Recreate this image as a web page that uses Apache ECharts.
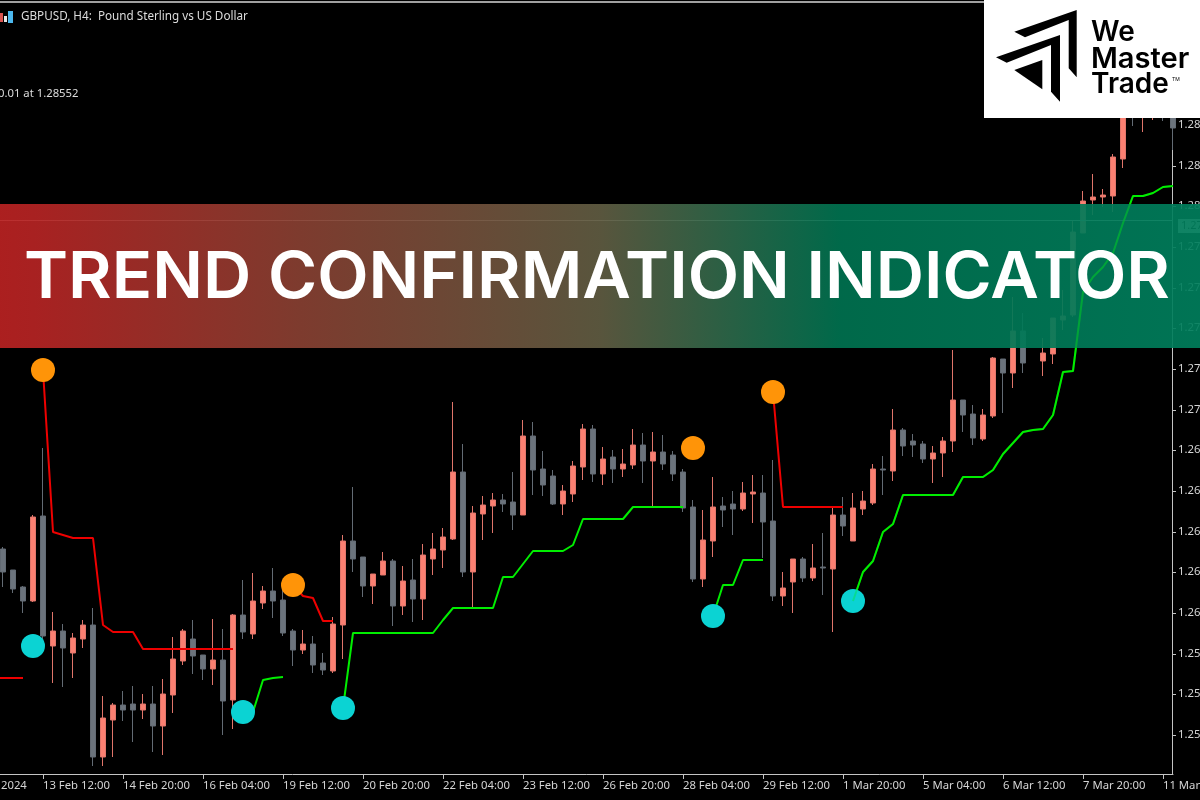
<!DOCTYPE html>
<html>
<head>
<meta charset="utf-8">
<style>html,body{margin:0;padding:0;background:#000}#c{width:1200px;height:800px}</style>
<script src="https://cdn.jsdelivr.net/npm/echarts@6/dist/echarts.min.js"></script>
</head>
<body>
<div id="c"></div>
<script>
const xTickLabels = ["12 Feb 2024","13 Feb 12:00","14 Feb 20:00","16 Feb 04:00","19 Feb 12:00","20 Feb 20:00","22 Feb 04:00","23 Feb 12:00","26 Feb 20:00","28 Feb 04:00","29 Feb 12:00","1 Mar 20:00","5 Mar 04:00","6 Mar 12:00","7 Mar 20:00","11 Mar 04:00"];
const yTickValues = [1.28475,1.28270,1.28070,1.27865,1.27660,1.27460,1.27255,1.27050,1.26850,1.26645,1.26440,1.26240,1.26035,1.25830,1.25630,1.25425];

const opens = [1.26355,1.26250,1.26165,1.26095,1.26520,1.25870,1.25945,1.25835,1.25905,1.25975,
1.25315,1.25500,1.25575,1.25580,1.25550,1.25580,1.25470,1.25625,1.25795,1.25905,
1.25825,1.25755,1.25800,1.25600,1.26025,1.25930,1.26085,1.26145,1.26100,1.25945,
1.25850,1.25880,1.25785,1.25745,1.25975,1.26395,1.26315,1.26170,1.26225,1.26295,
1.26070,1.26200,1.26105,1.26305,1.26350,1.26405,1.26740,1.26240,1.26530,1.26570,
1.26600,1.26590,1.26525,1.26920,1.26755,1.26720,1.26580,1.26630,1.26765,1.26955,
1.26730,1.26815,1.26755,1.26775,1.26875,1.26795,1.26840,1.26825,1.26740,1.26565,
1.26205,1.26395,1.26570,1.26580,1.26555,1.26630,1.26635,1.26495,1.26120,1.26190,
1.26305,1.26210,1.26265,1.26255,1.26525,1.26395,1.26555,1.26585,1.26755,1.26745,
1.26950,1.26895,1.26880,1.26805,1.26835,1.26895,1.27100,1.27030,1.26905,1.27020,
1.27305,1.27235,1.27445,null,1.27295,1.27330,1.27500,1.27525,1.27935,1.28100,
1.28115,1.28120,1.28305,1.28600,1.28525,1.28550,1.28600,1.28560];
const closes = [1.26240,1.26155,1.26095,1.26515,1.25920,1.25945,1.25860,1.25910,1.25975,1.25315,
1.25510,1.25575,1.25550,1.25550,1.25580,1.25470,1.25630,1.25805,1.25945,1.25820,
1.25755,1.25800,1.25595,1.26025,1.25940,1.26095,1.26145,1.26095,1.25935,1.25850,
1.25880,1.25775,1.25750,1.25980,1.26395,1.26305,1.26170,1.26230,1.26295,1.26070,
1.26195,1.26105,1.26325,1.26355,1.26415,1.26740,1.26240,1.26535,1.26575,1.26600,
1.26580,1.26525,1.26920,1.26750,1.26675,1.26580,1.26645,1.26770,1.26955,1.26730,
1.26805,1.26755,1.26780,1.26875,1.26795,1.26840,1.26780,1.26730,1.26560,1.26205,
1.26400,1.26565,1.26550,1.26555,1.26635,1.26640,1.26490,1.26120,1.26160,1.26305,
1.26210,1.26260,1.26260,1.26525,1.26470,1.26560,1.26595,1.26755,1.26750,1.26950,
1.26870,1.26875,1.26805,1.26835,1.26895,1.27100,1.27025,1.26910,1.27025,1.27310,
1.27235,1.27445,1.27285,null,1.27335,1.27510,1.27520,1.27940,1.28095,1.28115,
1.28125,1.28315,1.28575,1.28550,1.28600,1.28600,1.28550,1.28460];
const lows = [1.26165,1.26135,1.26035,1.26090,1.25900,1.25685,1.25665,1.25710,1.25860,1.25270,
1.25270,1.25315,1.25495,1.25390,1.25505,1.25340,1.25325,1.25535,1.25775,1.25730,
1.25700,1.25675,1.25425,1.25455,1.25905,1.25905,1.26055,1.26010,1.25920,1.25770,
1.25830,1.25735,1.25725,1.25735,1.25805,1.26240,1.26115,1.26080,1.26225,1.25970,
1.26025,1.25990,1.26000,1.26225,1.26260,1.26400,1.26215,1.26060,1.26400,1.26435,
1.26540,1.26450,1.26525,1.26625,1.26620,1.26575,1.26525,1.26590,1.26700,1.26690,
1.26675,1.26685,1.26715,1.26755,1.26685,1.26565,1.26750,1.26695,1.26540,1.26190,
1.26165,1.26315,1.26465,1.26425,1.26545,1.26485,1.26310,1.26095,1.26070,1.26035,
1.26190,1.26195,1.26125,1.25940,1.26420,1.26395,1.26525,1.26575,1.26625,1.26695,
1.26820,1.26815,1.26785,1.26685,1.26715,1.26840,1.26940,1.26875,1.26895,1.27010,
1.27035,1.27160,1.27235,null,1.27220,1.27280,1.27450,1.27515,1.27935,1.28025,
1.28065,1.28040,1.28260,1.28470,1.28440,1.28500,1.28495,1.28350];
const highs = [1.26365,1.26250,1.26170,1.26525,1.26860,1.26040,1.25980,1.25935,1.26000,1.26060,
1.25620,1.25585,1.25645,1.25670,1.25630,1.25670,1.25705,1.25915,1.25955,1.26000,
1.25825,1.26005,1.25955,1.26030,1.26200,1.26235,1.26170,1.26260,1.26150,1.25955,
1.25950,1.25920,1.25835,1.26015,1.26425,1.26665,1.26315,1.26230,1.26340,1.26305,
1.26270,1.26305,1.26380,1.26435,1.26460,1.27090,1.26880,1.26570,1.26620,1.26635,
1.26630,1.26740,1.27000,1.26990,1.26845,1.26750,1.26675,1.26795,1.26980,1.26975,
1.26865,1.26850,1.26855,1.26955,1.26935,1.26940,1.26925,1.26845,1.26755,1.26600,
1.26550,1.26715,1.26615,1.26645,1.26690,1.26725,1.26725,1.26800,1.26240,1.26305,
1.26315,1.26380,1.26435,1.26565,1.26615,1.26635,1.26645,1.26780,1.26820,1.27055,
1.26960,1.26930,1.26895,1.26870,1.26915,1.27350,1.27100,1.27075,1.27055,1.27315,
1.27305,1.27615,1.27535,null,1.27410,1.27510,1.27650,1.28000,1.28145,1.28230,
1.28155,1.28330,1.28625,1.28650,1.28650,1.28650,1.28625,1.28625];

const redFirstBars = [-1,4,29,77];
const redLines = [
 [1.25710,1.25710,1.25710,1.25710],
 [1.27250,1.26440,1.26425,1.26410,1.26410,1.26410,1.25975,1.25940,1.25940,1.25940,1.25855,1.25855,1.25855,1.25855,1.25855,1.25855,1.25855,1.25855,1.25855,1.25855],
 [1.26175,1.26120,1.26110,1.25995,1.25995],
 [1.27140,1.26565,1.26565,1.26565,1.26565,1.26565,1.26565,1.26565]
];
const greenFirstBars = [24,34,71,85];
const greenLines = [
 [1.25540,1.25540,1.25700,1.25710,1.25715],
 [1.25560,1.25935,1.25935,1.25935,1.25935,1.25935,1.25935,1.25935,1.25935,1.25935,1.26000,1.26060,1.26060,1.26060,1.26060,1.26060,1.26215,1.26215,1.26280,1.26345,1.26345,1.26345,1.26345,1.26375,1.26505,1.26505,1.26505,1.26505,1.26505,1.26565,1.26565,1.26565,1.26565,1.26565,1.26565],
 [1.26020,1.26175,1.26175,1.26300,1.26300,1.26300],
 [1.26095,1.26240,1.26295,1.26440,1.26480,1.26625,1.26625,1.26625,1.26625,1.26625,1.26625,1.26715,1.26715,1.26715,1.26750,1.26830,1.26885,1.26940,1.26950,1.26955,1.27025,1.27240,1.27245,1.27640,1.27715,1.27765,1.27835,1.27985,1.28120,1.28120,1.28135,1.28165,1.28170]
];
const sellBars = [4,29,69,77];
const sellPrices = [1.27250,1.26175,1.26860,1.27140];
const buyBars = [3,24,34,71,85];
const buyPrices = [1.25870,1.25540,1.25560,1.26020,1.26095];
const currentPrice = 1.27970;

const LEAD = 4; // bars left of the visible window
const categories = [];
for (let k = 0; k < opens.length + LEAD; k++) categories.push(k % 8 === 0 ? xTickLabels[k / 8] : '');
const candles = Array(LEAD).fill('-').concat(opens.map((o, i) => o === null ? '-' : [o, closes[i], lows[i], highs[i]]));
const UP = '#FA8072', DOWN = '#6C747D', FONT = '"Noto Sans","Open Sans",sans-serif';
const RED = '#EE0000', GREEN = '#00EE00';

function lineSeries(firsts, lists, color, z) {
  return lists.map((vals, s) => ({
    type: 'line', z, symbol: 'none', silent: true, animation: false, clip: false,
    lineStyle: {color, width: 2},
    data: vals.map((v, j) => [firsts[s] + j + LEAD, v])
  }));
}
function dots(bars, prices, color) {
  return {type: 'scatter', z: 4, symbol: 'circle', symbolSize: 24, silent: true, clip: false,
    itemStyle: {color, opacity: 1}, data: bars.map((b, j) => [b + LEAD, prices[j]])};
}

const chart = echarts.init(document.getElementById('c'));
chart.setOption({
  animation: false,
  backgroundColor: '#000',
  grid: {left: -37, width: 1210, top: 0, height: 774, containLabel: false, outerBoundsMode: 'none'},
  xAxis: {
    type: 'category', data: categories, boundaryGap: false,
    axisLine: {lineStyle: {color: '#c4c4c4', width: 1}},
    axisTick: {length: 5, interval: k => k % 8 === 0, lineStyle: {color: '#c4c4c4'}},
    axisLabel: {interval: k => k % 8 === 0, align: 'left', color: '#d4d4d4', fontFamily: FONT, fontSize: 11.3, margin: 6, showMinLabel: true, showMaxLabel: true, hideOverlap: false},
    splitLine: {show: false}
  },
  yAxis: {
    type: 'value', position: 'right', min: 1.2523, max: 1.291, offset: -1,
    axisLine: {show: true, lineStyle: {color: '#c4c4c4', width: 1}},
    axisTick: {show: true, length: 4, customValues: yTickValues, lineStyle: {color: '#c4c4c4'}},
    axisLabel: {customValues: yTickValues, formatter: v => v.toFixed(5), color: '#d4d4d4', fontFamily: FONT, fontSize: 11.3, margin: 6, hideOverlap: false},
    splitLine: {show: false}
  },
  series: [
    {
      type: 'candlestick', z: 2, barWidth: 6, silent: true, clip: false, data: candles,
      itemStyle: {color: UP, color0: DOWN, borderColor: '#E0756A', borderColor0: '#636B74', borderWidth: 1},
      markLine: {silent: true, symbol: 'none', animation: false, label: {show: false},
        lineStyle: {color: '#c8c8c8', width: 1, type: 'solid'}, data: [{yAxis: currentPrice}]}
    },
    ...lineSeries(redFirstBars, redLines, RED, 3),
    ...lineSeries(greenFirstBars, greenLines, GREEN, 3),
    // the indicator line shows through the translucent banner more than the candles do
    ...lineSeries(greenFirstBars.slice(3), greenLines.slice(3), 'rgba(0,238,0,0.3)', 11),
    dots(sellBars, sellPrices, '#FF9408'),
    dots(buyBars, buyPrices, '#0BD3D3')
  ],
  graphic: {elements: [
    {type: 'rect', z: 9, silent: true, shape: {x: 0, y: 1, width: 984, height: 2}, style: {fill: '#a0a0a0'}},
    {type: 'rect', z: 9, silent: true, shape: {x: 0, y: 13, width: 3, height: 9}, style: {fill: '#d9534f'}},
    {type: 'rect', z: 9, silent: true, shape: {x: 4, y: 16, width: 3, height: 6}, style: {fill: '#e8e8e8'}},
    {type: 'rect', z: 9, silent: true, shape: {x: 8, y: 11, width: 5, height: 12}, style: {fill: '#4cb8ee'}},
    {type: 'text', z: 9, silent: true, style: {x: 21, y: 17, text: 'GBPUSD, H4:  Pound Sterling vs US Dollar', fill: '#dcdcdc', font: '11.7px ' + FONT, verticalAlign: 'middle'}},
    {type: 'text', z: 9, silent: true, style: {x: -2, y: 93.5, text: '0.01 at 1.28552', fill: '#dcdcdc', font: '11.3px ' + FONT, verticalAlign: 'middle'}},
    // current-price tag, underneath the banner
    {type: 'rect', z: 9, silent: true, shape: {x: 1178, y: 219, width: 22, height: 14}, style: {fill: '#c8c8c8'}},
    {type: 'text', z: 9, silent: true, style: {x: 1181, y: 226, text: currentPrice.toFixed(5), fill: '#000', font: '11px ' + FONT, verticalAlign: 'middle'}},
    // banner
    {type: 'rect', z: 10, silent: true, shape: {x: 0, y: 204, width: 1200, height: 144},
      style: {fill: new echarts.graphic.LinearGradient(0, 0, 1, 0, [
        {offset: 0, color: 'rgba(186,34,34,0.92)'},
        {offset: 0.03, color: 'rgba(182,36,36,0.92)'},
        {offset: 0.25, color: 'rgba(136,64,50,0.92)'},
        {offset: 0.5, color: 'rgba(96,92,66,0.92)'},
        {offset: 0.7, color: 'rgba(0,114,80,0.92)'},
        {offset: 1, color: 'rgba(0,126,92,0.92)'}
      ])}},
    {type: 'text', z: 12, silent: true, x: 24, y: 278, scaleX: 1.028, style: {x: 0, y: 0, text: 'TREND CONFIRMATION INDICATOR', fill: '#fff', font: '600 65px Inter, sans-serif', verticalAlign: 'middle'}},
    // logo
    {type: 'rect', z: 13, silent: true, shape: {x: 984, y: 0, width: 216, height: 118}, style: {fill: '#fff'}},
    {type: 'polygon', z: 14, silent: true, shape: {points: [[1014.3,31.7],[1076.7,10],[1076.7,77.3],[1068.7,68.3],[1068.7,20],[1025,37.3]]}, style: {fill: '#000'}},
    {type: 'polygon', z: 14, silent: true, shape: {points: [[996,57.3],[1060,35],[1060,101.7],[1051,91.7],[1051,45],[1006.7,62.7]]}, style: {fill: '#000'}},
    {type: 'polygon', z: 14, silent: true, shape: {points: [[1014.3,70],[1042.3,60],[1042.3,89.3]]}, style: {fill: '#000'}},
    {type: 'text', z: 14, silent: true, style: {x: 1091, y: 33, text: 'We', fill: '#000', font: '600 28px Inter, sans-serif', verticalAlign: 'middle'}},
    {type: 'text', z: 14, silent: true, x: 1091, y: 60, scaleX: 1.04, style: {x: 0, y: 0, text: 'Master', fill: '#000', font: '600 28px Inter, sans-serif', verticalAlign: 'middle'}},
    {type: 'text', z: 14, silent: true, style: {x: 1091, y: 85, text: 'Trade', fill: '#000', font: '600 28px Inter, sans-serif', verticalAlign: 'middle'}},
    {type: 'text', z: 14, silent: true, style: {x: 1172, y: 79, text: 'TM', fill: '#000', font: '5px Inter, sans-serif', verticalAlign: 'middle'}}
  ]}
});
</script>
</body>
</html>
